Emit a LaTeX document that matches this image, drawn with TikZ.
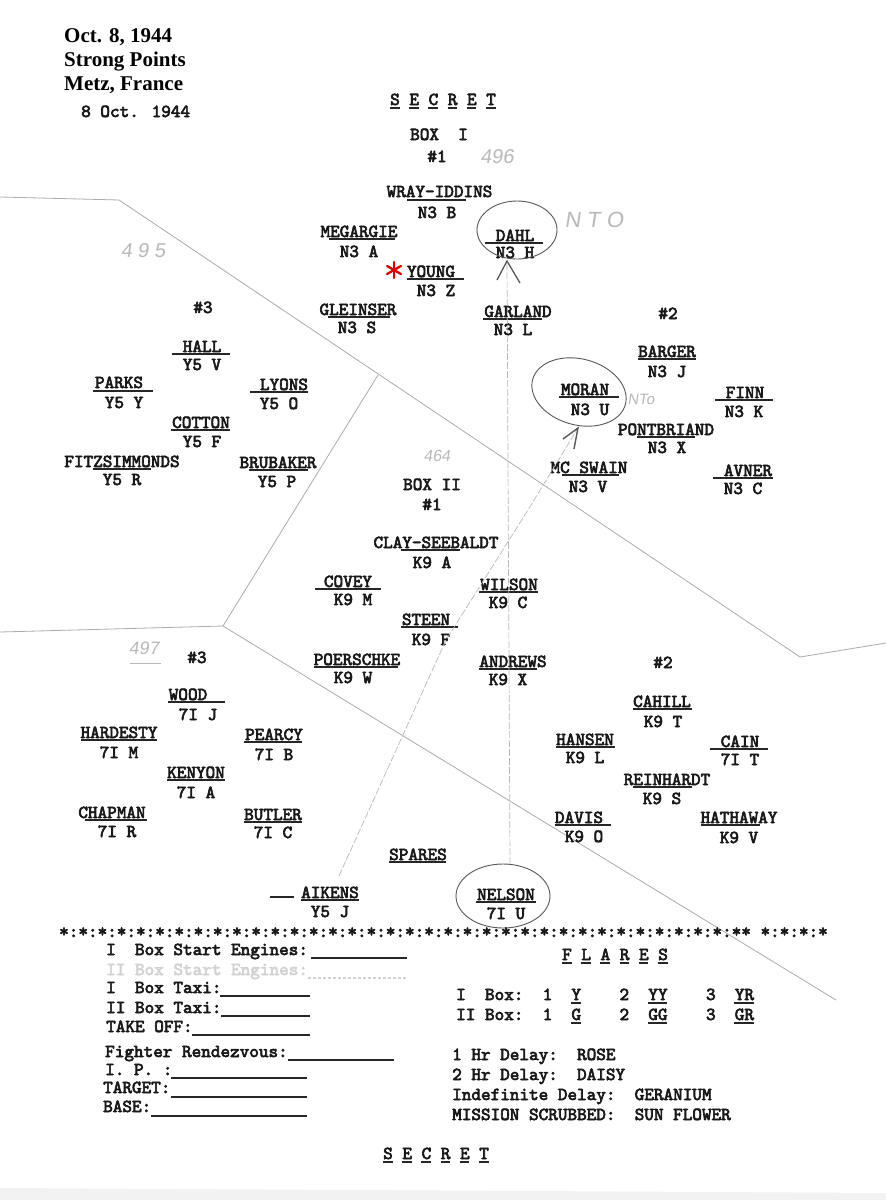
\documentclass[tikz,border=0pt]{standalone}
\usepackage{fontspec}
\setmainfont{Liberation Serif}
\newfontfamily\typ[FakeBold=3.5]{lmmono10-regular.otf}
\newfontfamily\hand[FakeSlant=0.15]{Liberation Sans}
\usetikzlibrary{arrows.meta}
\tikzset{
  tw/.style={font=\typ\fontsize{18.3}{20}\selectfont, inner sep=0pt, anchor=base, text=black!90},
  twl/.style={tw, anchor=base west},
  hdr/.style={font=\bfseries\fontsize{21}{24}\selectfont, inner sep=0pt, anchor=base west},
  ul/.style={line width=1.7pt, black!85},
  divider/.style={gray!65, line width=0.8pt},
  pencil/.style={gray!55, line width=0.7pt, dash pattern=on 7pt off 2pt},
  pencilring/.style={black!65, line width=0.9pt},
  hw/.style={font=\hand\fontsize{20}{20}\selectfont, text=gray!55, inner sep=0pt},
  faded/.style={tw, anchor=base west, text=gray!35},
}
\newcommand\ulcols[4]{\draw[ul] ({#1+9.6*#3},{#2+3}) -- ({#1+9.6*(#3+#4)},{#2+3});}
\begin{document}
\begin{tikzpicture}[x=1pt,y=-1pt]
\useasboundingbox (0,0) rectangle (886,1200);
\fill[white] (0,0) rectangle (886,1200);
\fill[gray!10] (0,1188) -- (886,1193) -- (886,1200) -- (0,1200) -- cycle;

% ---------- header ----------
\node[hdr] (h1) at (64,42) {Oct. 8, 1944};
\node[hdr] (h2) at (64,66) {Strong Points};
\node[hdr] (h3) at (64,90) {Metz, France};
\node[twl] (h4) at (81,117) {8 Oct. 1944};

% ---------- dividing lines ----------
\coordinate (a0) at (0,197);
\coordinate (a1) at (119,200);
\coordinate (a2) at (800,657);
\coordinate (a3) at (886,643);
\coordinate (b0) at (378,375);
\coordinate (c0) at (0,632);
\coordinate (c1) at (223,626);
\coordinate (c2) at (836,1000);
\draw[divider] (a0) -- (a1) -- (a2) -- (a3);
\draw[divider] (b0) -- (c1);
\draw[divider] (c0) -- (c1) -- (c2);

% ---------- title ----------
\node[twl] (sec1) at (390,105) {S~E~C~R~E~T};
\foreach \i in {0,2,4,6,8,10}{\ulcols{390}{105}{\i}{1}}
\node[tw] (box1) at (439,140) {BOX~~I};
\node[tw] (b1n1) at (437,162) {\#1};
\node[tw] (b1n3) at (203,313) {\#3};
\node[tw] (b1n2) at (668,319) {\#2};
\node[tw] (box2) at (432,490) {BOX~II};
\node[tw] (b2n1) at (432,510) {\#1};
\node[tw] (b2n3) at (197,663) {\#3};
\node[tw] (b2n2) at (663,668) {\#2};

% ---------- crews ----------
\foreach \id/\nm/\nx/\ny/\cd/\cx/\cy/\ua/\ub/\uy in {
 wray/WRAY-IDDINS/439.5/197/N3 B/437/218/407/466/200,
 megargie/MEGARGIE/359/237/N3 A/359/257/329/395/239,
 dahl/DAHL/515/241/N3 H/515/258/485/543/243,
 young/YOUNG/431/277/N3 Z/436/296/407/464/279,
 gleinser/GLEINSER/358/315/N3 S/357/333/328/390/317,
 garland/GARLAND/518/317/N3 L/513/335/483/542/319,
 hall/HALL/202/352/Y5 V/202/370/172/230/354,
 parks/PARKS/119/388/Y5 Y/124/408/93/153/391,
 lyons/LYONS/284/390/Y5 O/279/409/250/308/392,
 cotton/COTTON/201/428/Y5 F/202/447/171/230/430,
 fitz/FITZSIMMONDS/122/467/Y5 R/122/485/93/151/469,
 brubaker/BRUBAKER/278/468/Y5 P/277/487/249/308/470,
 clay/CLAY-SEEBALDT/436/548/K9 A/432/568/401/460/550,
 covey/COVEY/348/587/K9 M/353/605/315/381/589,
 wilson/WILSON/509/590/K9 C/508/608/479/538/592,
 steen/STEEN/426/625/K9 F/431/645/401/458/627,
 barger/BARGER/667/357/N3 J/667/377/638/696/359,
 moran/MORAN/585/395/N3 U/590/415/559/619/397,
 finn/FINN/745/398/N3 K/744/417/715/773/400,
 pont/PONTBRIAND/666/435/N3 X/667/453/637/695/437,
 mcswain/MC SWAIN/589/473/N3 V/588/492/562/619/475,
 avner/AVNER/748/476/N3 C/743/494/713/773/478,
 poer/POERSCHKE/357/665/K9 W/353/683/314/398/667,
 andrews/ANDREWS/513/667/K9 X/508/685/479/537/669,
 wood/WOOD/188/700/7I J/198/720/168/225/702,
 hardesty/HARDESTY/119/738/7I M/119/758/81/157/740,
 pearcy/PEARCY/274/740/7I B/274/760/244/302/742,
 kenyon/KENYON/196/778/7I A/196/798/167/225/780,
 chapman/CHAPMAN/112/818/7I R/117/837/85/147/820,
 butler/BUTLER/273/820/7I C/273/838/244/302/822,
 aikens/AIKENS/330/898/Y5 J/330/917/301/359/900,
 nelson/NELSON/506/900/7I U/506/919/476/536/902,
 cahill/CAHILL/662/707/K9 T/663/727/633/692/709,
 hansen/HANSEN/585/745/K9 L/585/763/556/615/747,
 cain/CAIN/740/747/7I T/740/765/710/768/749,
 reinhardt/REINHARDT/667/785/K9 S/662/804/633/692/787,
 davis/DAVIS/579/823/K9 O/584/842/555/611/825,
 hathaway/HATHAWAY/739/823/K9 V/739/843/701/760/825}
{
  \node[tw] (\id) at (\nx,\ny) {\nm};
  \node[tw] (\id-c) at (\cx,\cy) {\cd};
  \draw[ul] (\ua,\uy) -- (\ub,\uy);
}
\node[tw] (spares) at (418,860) {SPARES};
\draw[ul] (389,862) -- (446,862);
\draw[ul] (270,897) -- (294,897);

% red asterisk
\foreach \a in {90,30,150}{\draw[red!85!black, line width=2.3pt, line cap=round] (394,270) ++(\a:8) -- ++(\a+180:16);}

% ---------- pencil marks ----------
\draw[pencilring] (517,230) ellipse [x radius=40, y radius=29];
\draw[pencilring, rotate around={-15:(579,392)}] (579,392) ellipse [x radius=48, y radius=33];
\draw[pencilring] (503,896) ellipse [x radius=47, y radius=32];
\coordinate (dahltip) at (507,261);
\coordinate (neltop) at (510,864);
\draw[pencil] (neltop) -- (dahltip);
\draw[pencilring, line width=1.3pt] ([shift={(-10,19)}]dahltip) -- (dahltip) -- ([shift={(13,22)}]dahltip);
\coordinate (morantip) at (578,428);
\coordinate (aiktop) at (339,876);
\draw[pencil] (aiktop) -- (446,640) -- (528,510) -- (morantip);
\draw[pencilring, line width=1.4pt] ([shift={(-15,11)}]morantip) -- (morantip) -- ([shift={(-4,21)}]morantip);

\node[hw] (n496) at (497,157) {496};
\node[hw, font=\hand\fontsize{22}{22}\selectfont] (nto1) at (594,220) {N T O};
\node[hw] (n495) at (143,251) {4 9 5};
\node[hw, font=\hand\fontsize{16}{16}\selectfont] (n464) at (437,456) {464};
\node[hw, font=\hand\fontsize{18}{18}\selectfont] (n497) at (144,648) {497};
\draw[gray!55, line width=0.7pt] (130,663) -- (161,663);
\node[hw, font=\hand\fontsize{15}{15}\selectfont] (nto2) at (641,399) {NTo};

% ---------- separator ----------
\node[twl] (stars) at (59,937) {*:*:*:*:*:*:*:*:*:*:*:*:*:*:*:*:*:*:*:*:*:*:*:*:*:*:*:*:*:*:*:*:*:*:*:**~*:*:*:*};

% ---------- form ----------
\node[twl] (f1) at (106,955) {I~~Box~Start~Engines:};
\draw[ul] (311,958) -- (407,958);
\node[faded] (f2) at (106,975) {II~Box~Start~Engines:};
\draw[gray!35, line width=1.2pt, dash pattern=on 3pt off 2pt] (308,978) -- (407,978);
\node[twl] (f3) at (106,993) {I~~Box~Taxi:};
\draw[ul] (220,996) -- (310,996);
\node[twl] (f4) at (106,1013) {II~Box~Taxi:};
\draw[ul] (221,1016) -- (310,1016);
\node[twl] (f5) at (106,1032) {TAKE~OFF:};
\draw[ul] (192,1035) -- (310,1035);
\node[twl] (f6) at (105,1057) {Fighter~Rendezvous:};
\draw[ul] (288,1060) -- (394,1060);
\node[twl] (f7) at (105,1075) {I.~P.~:};
\draw[ul] (171,1078) -- (307,1078);
\node[twl] (f8) at (103,1093) {TARGET:};
\draw[ul] (171,1097) -- (307,1097);
\node[twl] (f9) at (103,1112) {BASE:};
\draw[ul] (151,1116) -- (307,1116);

% ---------- flares ----------
\node[twl] (flares) at (562,960) {F~L~A~R~E~S};
\foreach \i in {0,2,4,6,8,10}{\ulcols{562}{960}{\i}{1}}
\node[twl] (fl1) at (456,1000) {I~~Box:~~1~~Y~~~~2~~YY~~~~3~~YR};
\node[twl] (fl2) at (456,1020) {II~Box:~~1~~G~~~~2~~GG~~~~3~~GR};
\ulcols{456}{1000}{12}{1}\ulcols{456}{1000}{20}{2}\ulcols{456}{1000}{29}{2}
\ulcols{456}{1020}{12}{1}\ulcols{456}{1020}{20}{2}\ulcols{456}{1020}{29}{2}
\node[twl] (d1) at (452,1060) {1~Hr~Delay:~~ROSE};
\node[twl] (d2) at (452,1080) {2~Hr~Delay:~~DAISY};
\node[twl] (d3) at (452,1100) {Indefinite~Delay:~~GERANIUM};
\node[twl] (d4) at (452,1120) {MISSION~SCRUBBED:~~SUN~FLOWER};

\node[twl] (sec2) at (383,1159) {S~E~C~R~E~T};
\foreach \i in {0,2,4,6,8,10}{\ulcols{383}{1159}{\i}{1}}
\end{tikzpicture}
\end{document}
